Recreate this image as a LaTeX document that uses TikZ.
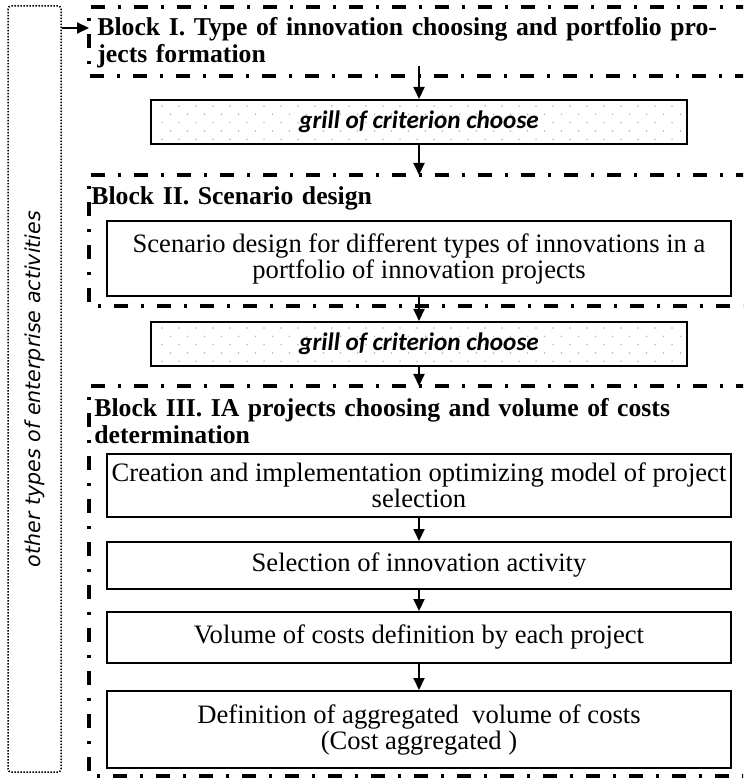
\documentclass[tikz,border=0pt]{standalone}
\usepackage{fontspec}
\setmainfont{Liberation Serif}
\newfontfamily\grillfont{Carlito}
\newfontfamily\sidefont{DejaVu Sans}
\usetikzlibrary{arrows.meta}
\begin{document}
\begin{tikzpicture}[x=0.5pt, y=-0.5pt,
          frame/.style ={line width = 1.6pt, dash pattern = on 7pt off 6.5pt on 1.5pt off 6.5pt},
          stage/.style ={draw, line width = 1pt, minimum width = 312pt, inner sep = 0pt, align = center, font = \fontsize{13.3}{13}\selectfont},
          grill/.style ={draw, line width = 1pt, minimum width = 268pt, minimum height = 22pt, inner sep = 0pt, font = \grillfont\bfseries\itshape\fontsize{12.6}{13}\selectfont},
          title/.style ={anchor = base west, inner sep = 0pt, text width = 350pt, align = left, font = \bfseries\fontsize{12.85}{13.5}\selectfont},
          side/.style ={draw, line width = 0.75pt, dash pattern = on 0.75pt off 0.75pt, rounded corners = 1.5pt, minimum width = 383pt, minimum height = 26.5pt, inner sep = 0pt, font = \sidefont\itshape\fontsize{10.3}{12}\selectfont},
          arr/.style ={line width = 1pt, -{Triangle[length = 6pt, width = 5.5pt]}},
          spot/.style ={fill = black!30}
          ]
\clip (0,0) rectangle (743,779);

\foreach \g in {100, 322}{
\foreach \j in {0,1,..., 30}{
\fill[spot] (162 + 17*\j, \g + 6) circle (0.4pt);
\fill[spot] (162 + 17*\j, \g + 22.7) circle (0.4pt);
\fill[spot] (162 + 17*\j, \g + 39.3) circle (0.4pt);
\fill[spot] (170.5 + 17*\j, \g + 14.3) circle (0.4pt);
\fill[spot] (170.5 + 17*\j, \g + 31) circle (0.4pt);
}
}

\node[side, rotate=90] (other) at (34.5,389) {other types of enterprise activities};

\node[title] (titleI) at (97,36) {Block I. Type of innovation choosing and portfolio pro-\\jects formation};
\node[grill] (grillA) at (419,122) {grill of criterion choose};
\node[title] (titleII) at (91,205) {Block II. Scenario design};
\node[stage, minimum height = 37.5pt] (scen) at (419,258.5) {Scenario design for different types of innovations in a\\portfolio of innovation projects};
\node[grill] (grillB) at (419,344) {grill of criterion choose};
\node[title] (titleIII) at (94,416) {Block III. IA projects choosing and volume of costs\\determination};
\node[stage, minimum height = 31.5pt] (create) at (419,485.5) {Creation and implementation optimizing model of project\\selection};
\node[stage, minimum height = 23.5pt] (select) at (419,565.5) {Selection of innovation activity};
\node[stage, minimum height = 25.5pt] (volume) at (419,637.5) {Volume of costs definition by each project};
\node[stage, minimum height = 38.5pt] (aggr) at (419,729.5) {Definition of aggregated~ volume of costs\\(Cost aggregated )};

\draw[frame] (750,7) -| (89,76) -- (750,76);
\draw[frame] (750,175) -| (89,306) -- (750,306);
\draw[frame] (750,386) -| (89,776) -- (750,776);

\coordinate (inI) at (89,28);
\coordinate (outI) at (419,66);
\coordinate (inII) at (419,175);
\coordinate (inIII) at (419,386);

\draw[arr] (other.south |- inI) -- (inI);
\draw[arr] (outI) -- (grillA);
\draw[arr] (grillA) -- (inII);
\draw[arr] (scen) -- (grillB);
\draw[arr] (grillB) -- (inIII);
\draw[arr] (create) -- (select);
\draw[arr] (select) -- (volume);
\draw[arr] (volume) -- (aggr);
\end{tikzpicture}
\end{document}
